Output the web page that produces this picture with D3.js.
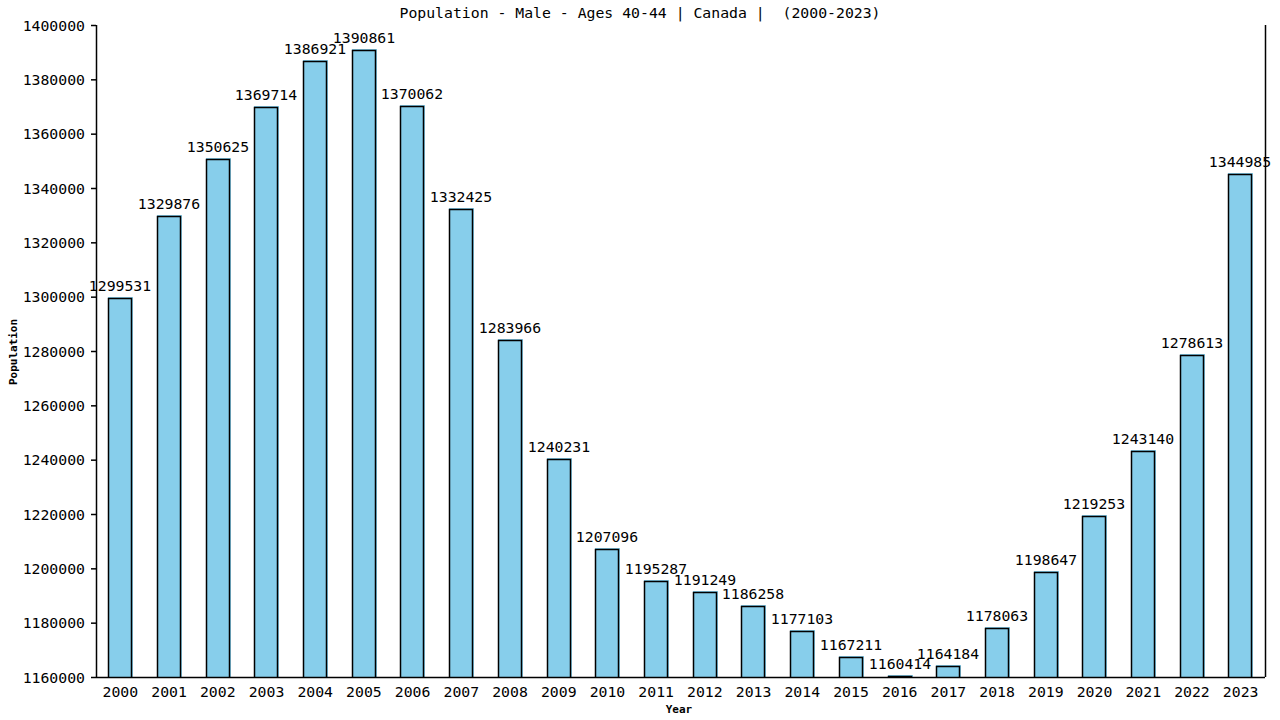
<!DOCTYPE html>
<html><head><meta charset="utf-8">
<script src="https://cdn.jsdelivr.net/npm/d3@7"></script>
<style>
html,body{margin:0;padding:0;background:#fff;}
text{font-family:"DejaVu Sans Mono",monospace;white-space:pre;}
</style>
</head><body>
<svg id="c" width="1280" height="720"></svg>
<script>
const years = ["2000","2001","2002","2003","2004","2005","2006","2007","2008","2009","2010","2011","2012","2013","2014","2015","2016","2017","2018","2019","2020","2021","2022","2023"];
const values = [1299531,1329876,1350625,1369714,1386921,1390861,1370062,1332425,1283966,1240231,1207096,1195287,1191249,1186258,1177103,1167211,1160414,1164184,1178063,1198647,1219253,1243140,1278613,1344985];
const yTicks = [1160000,1180000,1200000,1220000,1240000,1260000,1280000,1300000,1320000,1340000,1360000,1380000,1400000];
const title = "Population - Male - Ages 40-44 | Canada |  (2000-2023)";
const xTitle = "Year";
const yTitle = "Population";

const svg = d3.select("#c");
const L = 96, R = 1265, T = 25, B = 677;
const x = d3.scaleBand().domain(years).range([L, R]).paddingInner(0.5).paddingOuter(0.25);
const y = d3.scaleLinear().domain([1160000, 1400000]).range([B, T]);
const FS = "14.8px";

// bars
const g = svg.append("g");
years.forEach((yr, i) => {
  const bx = Math.round(x(yr)), bw = Math.round(x.bandwidth()), by = Math.round(y(values[i]));
  g.append("rect").attr("x", bx).attr("y", by - 1).attr("width", bw + 1).attr("height", B - by + 1).attr("fill", "#87ceeb");
  g.append("path").attr("d", `M${bx+0.5},${B}V${by+0.5}H${bx+bw-0.5}V${B}`).attr("fill", "none").attr("stroke", "#000").attr("stroke-width", 1.5);
  svg.append("text").attr("x", bx + bw/2).attr("y", by - 7).attr("text-anchor", "middle")
    .attr("font-size", FS).attr("fill", "#000").text(values[i]);
});

// y axis
const ya = svg.append("g").attr("transform", `translate(${L},0)`)
  .call(d3.axisLeft(y).tickValues(yTicks).tickSize(5).tickPadding(6).tickFormat(d3.format("d")));
ya.select(".domain").attr("stroke", "#000").attr("stroke-width", 1.5).attr("d", `M0.5,${T}V${B}`);
ya.selectAll(".tick line").attr("stroke", "#000").attr("stroke-width", 1.5);
ya.selectAll(".tick text").attr("font-size", FS).attr("font-family", "DejaVu Sans Mono, monospace").attr("fill", "#000").attr("dy", "0.35em");

// x axis
const xa = svg.append("g").attr("transform", `translate(0,${B})`)
  .call(d3.axisBottom(x).tickSize(0).tickPadding(9));
xa.select(".domain").attr("stroke", "#000").attr("stroke-width", 1.5).attr("d", `M${L},0.5H${R}`);
xa.selectAll(".tick text").attr("font-size", FS).attr("font-family", "DejaVu Sans Mono, monospace").attr("fill", "#000");

// right border line
svg.append("line").attr("x1", R + 0.5).attr("x2", R + 0.5).attr("y1", T).attr("y2", B).attr("stroke", "#000").attr("stroke-width", 1.5);

// titles
svg.append("text").attr("x", 640).attr("y", 18).attr("text-anchor", "middle").attr("font-size", FS).attr("fill", "#000").text(title);
svg.append("text").attr("x", 679).attr("y", 713).attr("text-anchor", "middle").attr("font-size", "11px").attr("font-weight", "bold").text(xTitle);
svg.append("text").attr("transform", "translate(17,352) rotate(-90)").attr("text-anchor", "middle").attr("font-size", "11px").attr("font-weight", "bold").text(yTitle);
</script>
</body></html>
